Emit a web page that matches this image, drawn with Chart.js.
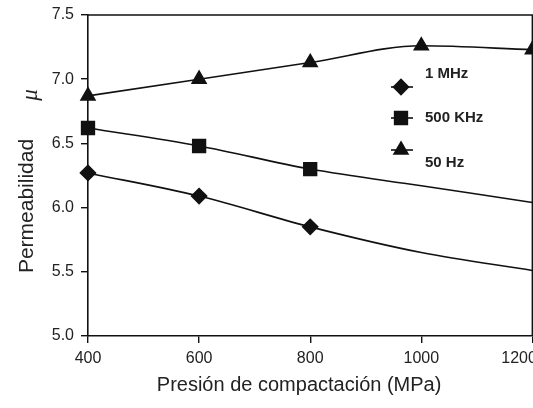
<!DOCTYPE html>
<html>
<head>
<meta charset="utf-8">
<script src="https://cdn.jsdelivr.net/npm/chart.js@4"></script>
<style>
  html, body { margin: 0; padding: 0; background: #fff; overflow: hidden; }
  #wrap { width: 533px; height: 408px; overflow: hidden; }
</style>
</head>
<body>
<div id="wrap"><canvas id="myChart" width="543" height="408"></canvas></div>
<script>
// presion de compactacion (MPa)
const presion = [400, 600, 800, 1000, 1200];
const mu1MHz = [6.27, 6.09, 5.85, 5.65, 5.51];
const mu500KHz = [6.62, 6.48, 6.30, 6.17, 6.04];
const mu50Hz = [6.87, 7.00, 7.13, 7.26, 7.23];
const yTicks = [5.0, 5.5, 6.0, 6.5, 7.0, 7.5];

const ink = '#111';

function serie(label, vals, style, r, marked) {
    return {
        label: label,
        data: presion.map((x, i) => ({ x: x, y: vals[i] })),
        borderColor: ink,
        backgroundColor: ink,
        borderWidth: 1.6,
        pointStyle: style,
        pointRadius: vals.map((v, i) => i < marked ? r : 0),
        pointHoverRadius: 0,
        cubicInterpolationMode: 'monotone',
        clip: false
    };
}

// marco arriba y derecha + titulo eje y + leyenda
const extras = {
    id: 'extras',
    afterDraw(chart) {
        const c = chart.ctx;
        const a = chart.chartArea;
        c.save();
        c.strokeStyle = ink;
        c.lineWidth = 1.6;
        c.beginPath();
        c.moveTo(a.left, a.top);
        c.lineTo(a.right, a.top);
        c.lineTo(a.right, a.bottom);
        c.stroke();

        // titulo eje y
        c.fillStyle = '#222';
        c.translate(27, 206);
        c.rotate(-Math.PI / 2);
        c.textAlign = 'center';
        c.textBaseline = 'middle';
        c.font = '21px "Liberation Sans", Arial, sans-serif';
        c.fillText('Permeabilidad', 0, 0);
        c.font = 'italic 23px "Liberation Serif", serif';
        c.fillText('μ', 111, 4);
        c.restore();

        // leyenda
        const items = [
            { t: '1 MHz', s: 'rectRot', r: 7.5, my: 87, ty: 74 },
            { t: '500 KHz', s: 'rect', r: 9, my: 118, ty: 118 },
            { t: '50 Hz', s: 'triangle', r: 8, my: 150, ty: 163 }
        ];
        c.save();
        items.forEach(it => {
            c.strokeStyle = ink;
            c.lineWidth = 1.6;
            c.beginPath();
            c.moveTo(391, it.my);
            c.lineTo(413, it.my);
            c.stroke();
            c.fillStyle = ink;
            Chart.helpers.drawPoint(c, { pointStyle: it.s, radius: it.r, borderWidth: 1 }, 401, it.my);
            c.fillStyle = '#222';
            c.font = 'bold 15px "Liberation Sans", Arial, sans-serif';
            c.textAlign = 'left';
            c.textBaseline = 'middle';
            c.fillText(it.t, 425, it.ty);
        });
        c.restore();
    }
};

const ctx = document.getElementById('myChart').getContext('2d');
new Chart(ctx, {
    type: 'line',
    data: {
        datasets: [
            serie('1 MHz', mu1MHz, 'rectRot', 7.5, 3),
            serie('500 KHz', mu500KHz, 'rect', 9, 3),
            serie('50 Hz', mu50Hz, 'triangle', 8, 5)
        ]
    },
    options: {
        responsive: false,
        animation: false,
        events: [],
        layout: { padding: { top: 15, right: 0, left: 0, bottom: 0 } },
        plugins: {
            legend: { display: false },
            tooltip: { enabled: false }
        },
        scales: {
            x: {
                type: 'linear',
                min: 400,
                max: 1200,
                afterBuildTicks: s => { s.ticks = presion.map(v => ({ value: v })); },
                afterFit: s => { s.height = 72; s.paddingLeft = 0; s.paddingRight = 0; },
                grid: { drawOnChartArea: false, drawTicks: true, tickLength: 7, color: ink, lineWidth: 1.4 },
                border: { display: true, color: ink, width: 1.6 },
                ticks: {
                    padding: 6,
                    color: '#222',
                    font: { size: 16, family: '"Liberation Sans", Arial, sans-serif' },
                    maxRotation: 0,
                    // la ultima etiqueta va corrida a la izquierda, como en el original
                    callback: v => v === 1200 ? '1200      ' : String(v)
                },
                title: {
                    display: true,
                    text: 'Presión de compactación (MPa)    ',
                    color: '#222',
                    font: { size: 20, family: '"Liberation Sans", Arial, sans-serif' },
                    padding: { top: 0, bottom: 11 }
                }
            },
            y: {
                min: 5.0,
                max: 7.5,
                afterBuildTicks: s => { s.ticks = yTicks.map(v => ({ value: v })); },
                afterFit: s => { s.width = 88; s.paddingTop = 0; s.paddingBottom = 0; },
                grid: { drawOnChartArea: false, drawTicks: true, tickLength: 7, color: ink, lineWidth: 1.4 },
                border: { display: true, color: ink, width: 1.6 },
                ticks: {
                    padding: 7,
                    color: '#222',
                    font: { size: 16, family: '"Liberation Sans", Arial, sans-serif' },
                    callback: v => v.toFixed(1)
                }
            }
        }
    },
    plugins: [extras]
});
</script>
</body>
</html>
